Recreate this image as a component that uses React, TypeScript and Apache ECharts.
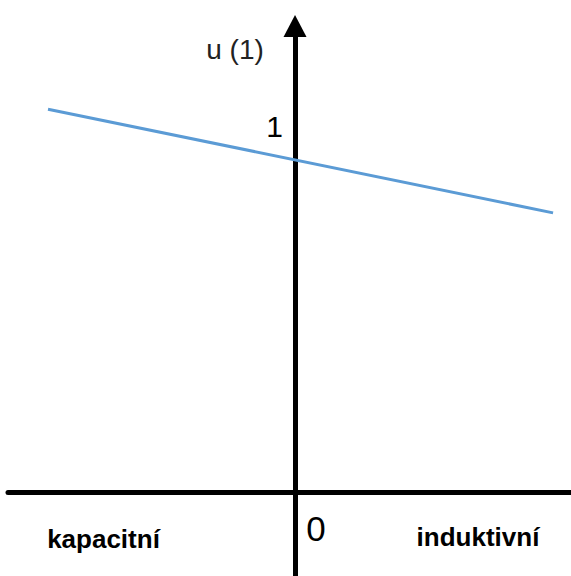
import React, { useEffect, useRef } from "react";
import * as echarts from "echarts";

// Reactance axis (capacitive to the left, inductive to the right)
const xRange: [number, number] = [-1.04, 1];
// Voltage axis in per-unit
const yRange: [number, number] = [-0.228, 1.273];

// Tick labels placed on the axes
const yTickValue = 1;
const yTickLabel = "1";
const originLabel = "0";

// Voltage characteristic: two end points of the straight line
const lineX = [-0.895, 0.935];
const lineU = [1.046, 0.763];

const axisTitle = "u (1)";
const leftLabel = "kapacitní";
const rightLabel = "induktivní";

const FONT = "'Liberation Sans', Arial, sans-serif";

export default function App() {
  const ref = useRef<HTMLDivElement>(null);

  useEffect(() => {
    if (!ref.current) return;
    const chart = echarts.init(ref.current, undefined, { renderer: "svg" });

    const points = lineX.map((x, i) => [x, lineU[i]]);

    chart.setOption({
      animation: false,
      backgroundColor: "#ffffff",
      grid: {
        left: 8,
        right: 0,
        top: 26,
        bottom: 0,
        containLabel: false,
        outerBoundsMode: "none",
      },
      xAxis: {
        type: "value",
        min: xRange[0],
        max: xRange[1],
        axisLine: { onZero: true, lineStyle: { color: "#000", width: 5 } },
        axisTick: { show: false },
        axisLabel: { show: false },
        splitLine: { show: false },
      },
      yAxis: {
        type: "value",
        min: yRange[0],
        max: yRange[1],
        axisLine: {
          onZero: true,
          symbol: ["none", "triangle"],
          symbolSize: [23, 22],
          lineStyle: { color: "#000", width: 5 },
        },
        axisTick: { show: false },
        axisLabel: { show: false },
        splitLine: { show: false },
      },
      series: [
        {
          type: "line",
          data: points,
          showSymbol: false,
          symbol: "none",
          lineStyle: { color: "#5b9bd5", width: 3 },
          silent: true,
          z: 1,
        },
        {
          // tick labels anchored to the axes through the coordinate system
          type: "scatter",
          symbolSize: 0,
          silent: true,
          z: 3,
          itemStyle: { opacity: 1 },
          data: [
            {
              value: [0, yTickValue],
              label: {
                show: true,
                formatter: yTickLabel,
                position: "left",
                distance: 12,
                color: "#000",
                fontFamily: FONT,
                fontSize: 30,
              },
            },
            {
              value: [0, 0],
              label: {
                show: true,
                formatter: originLabel,
                position: "bottom",
                distance: 19,
                offset: [21, 0],
                color: "#000",
                fontFamily: FONT,
                fontSize: 35,
              },
            },
          ],
        },
      ],
      graphic: [
        {
          type: "text",
          x: 235,
          y: 49,
          style: {
            text: axisTitle,
            fill: "#222",
            font: `28px ${FONT}`,
            textAlign: "center",
            textVerticalAlign: "middle",
          },
        },
        {
          type: "text",
          x: 103.5,
          y: 539,
          style: {
            text: leftLabel,
            fill: "#000",
            font: `bold 26px ${FONT}`,
            textAlign: "center",
            textVerticalAlign: "middle",
          },
        },
        {
          type: "text",
          x: 478,
          y: 537,
          style: {
            text: rightLabel,
            fill: "#000",
            font: `bold 26px ${FONT}`,
            textAlign: "center",
            textVerticalAlign: "middle",
          },
        },
      ],
    });

    return () => chart.dispose();
  }, []);

  return (
    <div
      ref={ref}
      style={{ position: "fixed", left: 0, top: 0, width: 571, height: 576 }}
    />
  );
}
